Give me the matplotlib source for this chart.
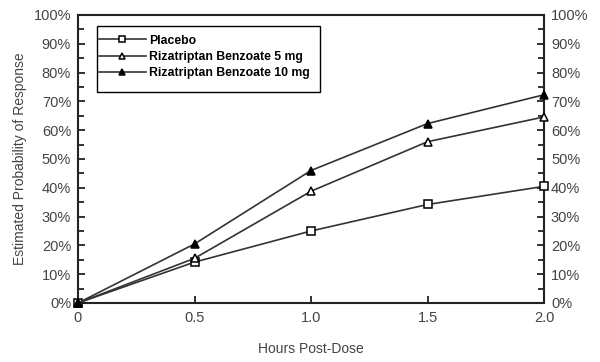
import numpy as np
import matplotlib.pyplot as plt
from matplotlib.patches import Rectangle
from matplotlib.ticker import MultipleLocator, PercentFormatter

plt.rcParams['font.family'] = ['Liberation Sans', 'DejaVu Sans']

hours = [0, 0.5, 1.0, 1.5, 2.0]
placebo = [0, 14.2, 25.0, 34.2, 40.5]
riza5 = [0, 15.5, 38.8, 56.0, 64.6]
riza10 = [0, 20.5, 46.0, 62.3, 72.3]

labels = ['Placebo', 'Rizatriptan Benzoate 5 mg', 'Rizatriptan Benzoate 10 mg']
markers = ['s', '^', '^']
faces = ['white', 'white', 'black']

fig = plt.figure(figsize=(6, 3.62), dpi=100)
ax = fig.add_axes([0.13, 0.163, 0.7767, 0.7956])

lc = '#333333'
for ys, lab, m, fc in zip([placebo, riza5, riza10], labels, markers, faces):
    ax.plot(hours, ys, color=lc, lw=1.2, marker=m, markersize=5.5,
            markerfacecolor=fc, markeredgecolor='black', markeredgewidth=1.1, label=lab,
            clip_on=False, zorder=3)

ax.set_xlim(0, 2.0)
ax.set_ylim(0, 100)
ax.set_xticks([0, 0.5, 1.0, 1.5, 2.0])
ax.set_xticklabels(['0', '0.5', '1.0', '1.5', '2.0'])
ax.yaxis.set_major_locator(MultipleLocator(10))
ax.yaxis.set_minor_locator(MultipleLocator(5))
ax.yaxis.set_major_formatter(PercentFormatter(decimals=0))

for s in ax.spines.values():
    s.set_linewidth(1.5)
    s.set_color('#222222')

ax.tick_params(axis='both', which='both', direction='in', colors='#222222',
               labelcolor='#444444', labelsize=10.5)
ax.tick_params(axis='y', which='major', length=5, width=1.3, right=True, labelright=True, pad=5)
ax.tick_params(axis='y', which='minor', length=4, width=1.3, right=True)
ax.tick_params(axis='x', which='major', length=5, width=1.3, pad=6)

ax.set_xlabel('Hours Post-Dose', fontsize=10, color='#444444', labelpad=12)
ax.set_ylabel('Estimated Probability of Response', fontsize=10, color='#444444', labelpad=5)

# legend box drawn separately (reference has extra space at the bottom)
ax.add_patch(Rectangle((0.041, 0.733), 0.4785, 0.229, transform=ax.transAxes,
                       facecolor='white', edgecolor='black', lw=1.0, zorder=4))
leg = ax.legend(loc='upper left', bbox_to_anchor=(0.04, 0.94), frameon=False,
                prop={'weight': 'bold', 'size': 8.8}, handlelength=3.8,
                borderpad=0.2, labelspacing=0.35, handletextpad=0.3, borderaxespad=0,
                markerscale=0.9)
leg.set_zorder(5)

fig.savefig('out.png', dpi=100)
